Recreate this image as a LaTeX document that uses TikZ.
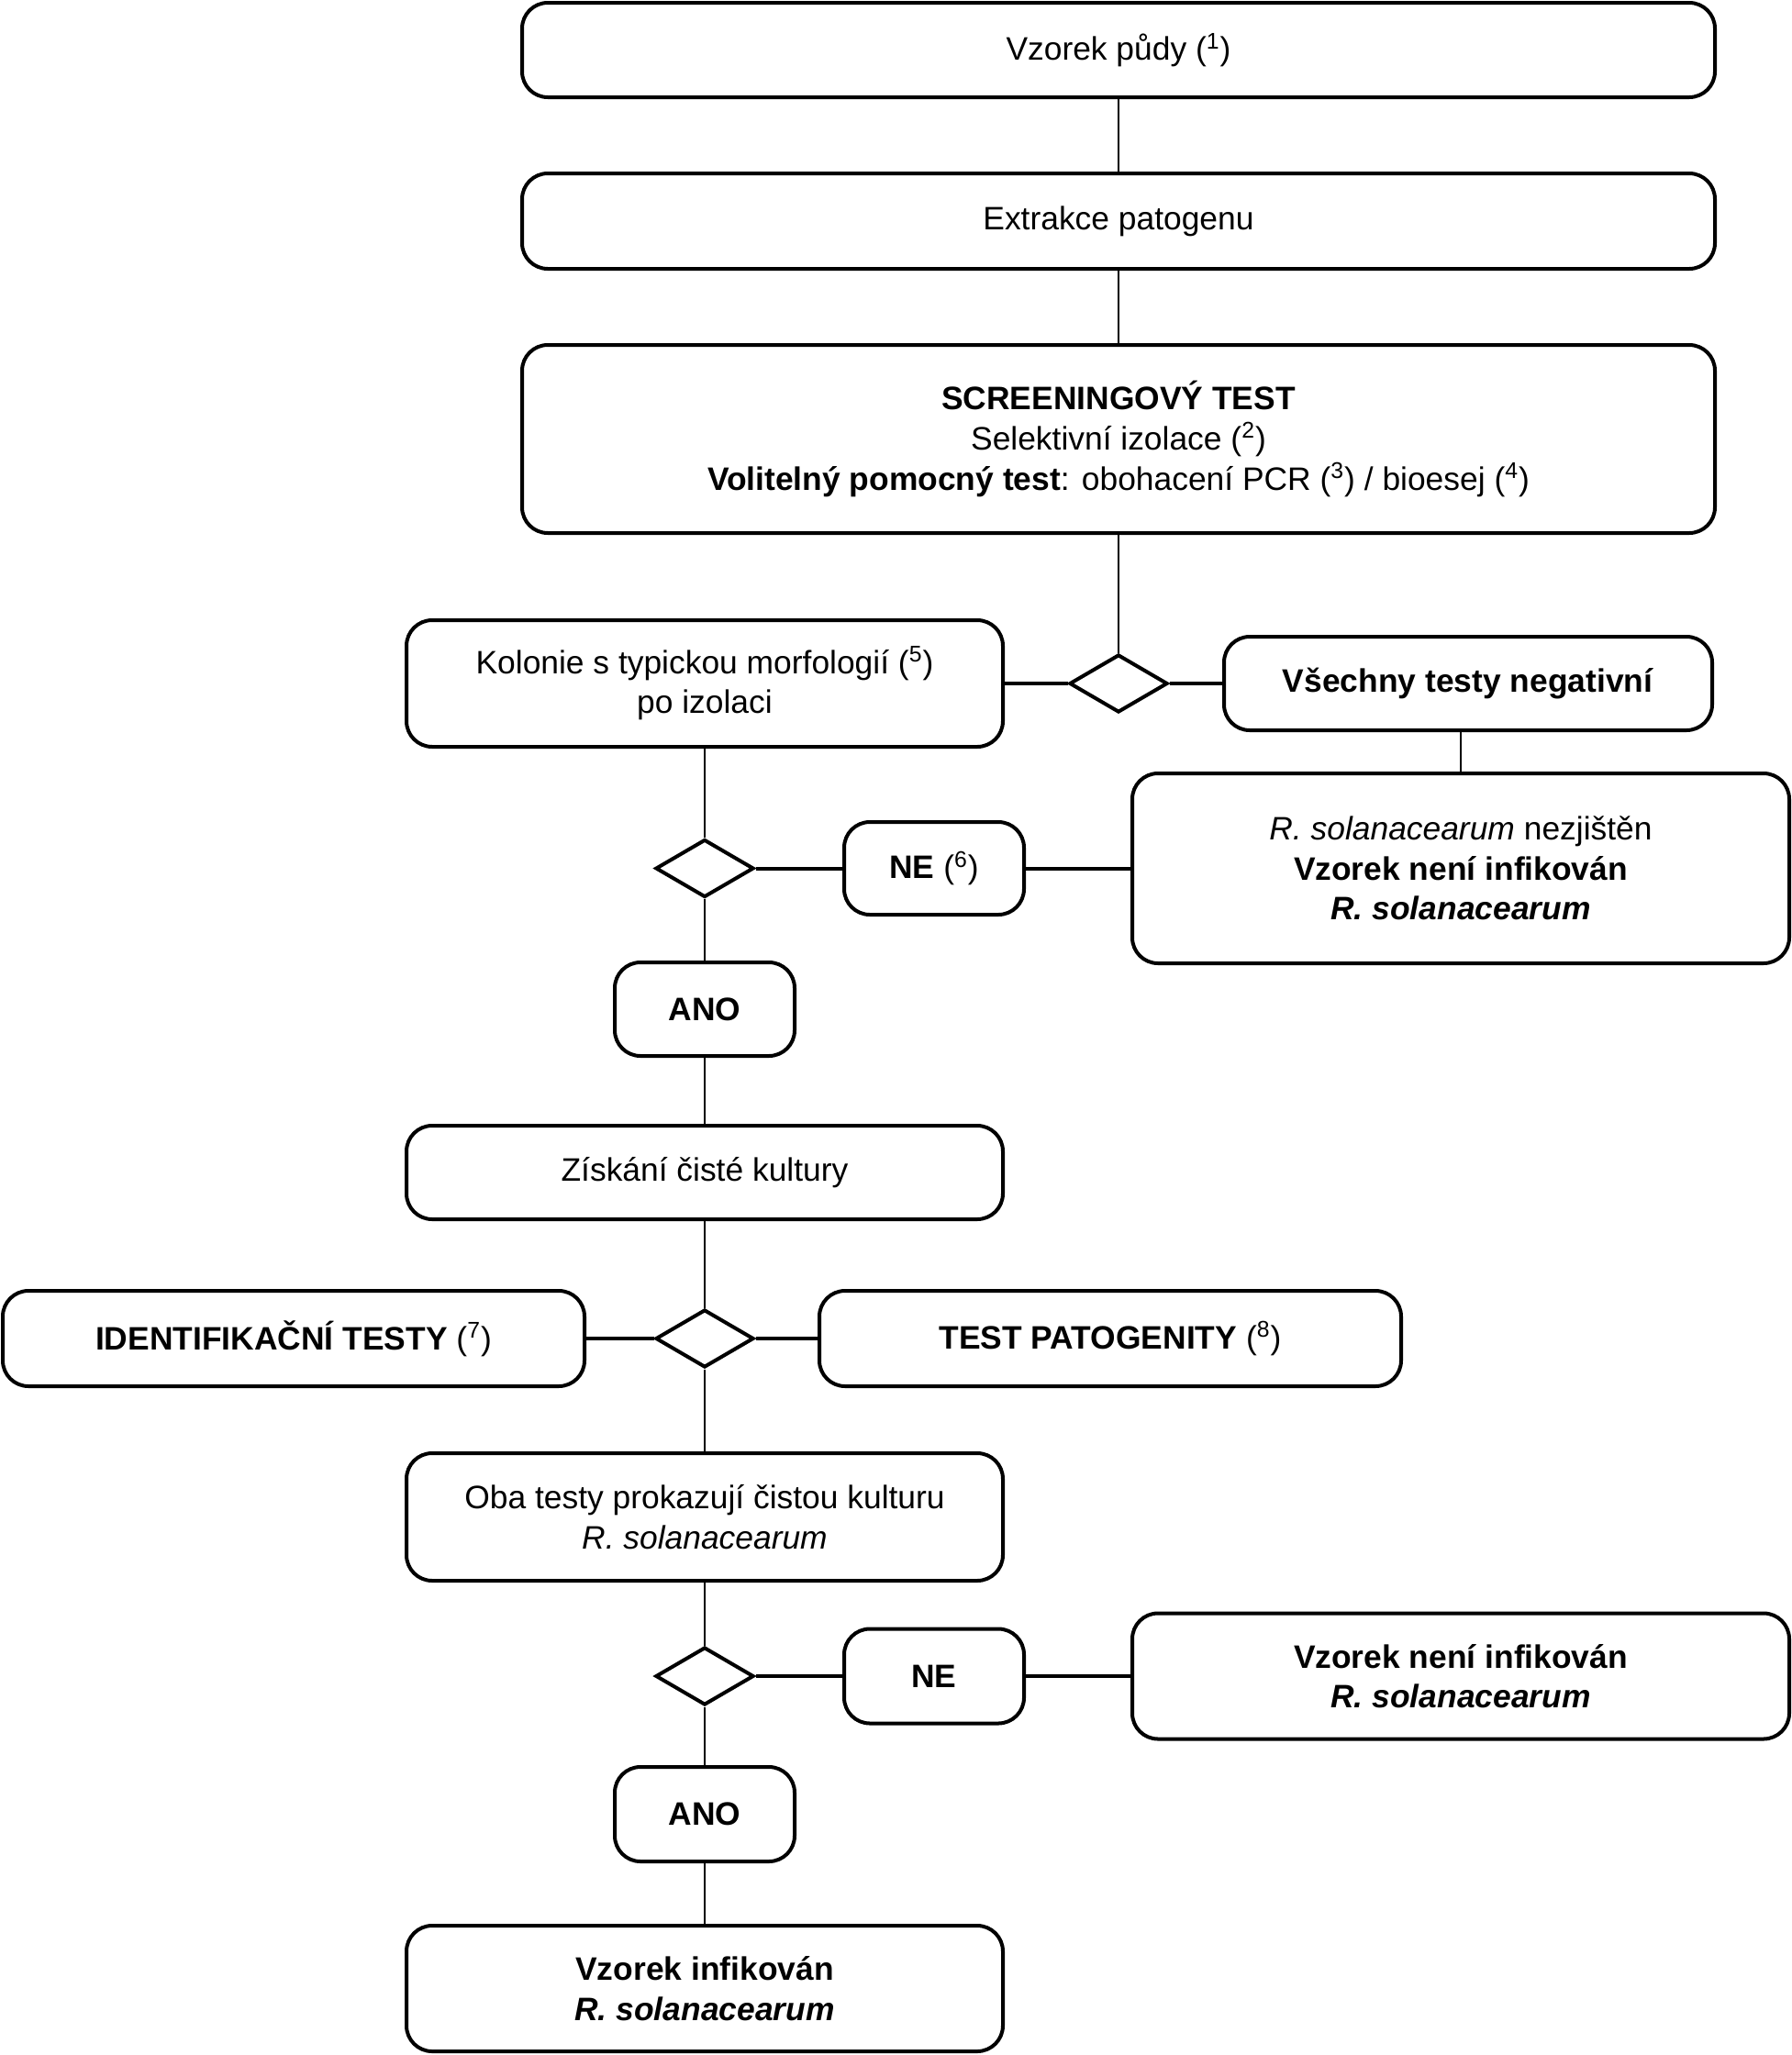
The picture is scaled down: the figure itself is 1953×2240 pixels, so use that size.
\documentclass[tikz,border=0pt]{standalone}
\usepackage{fontspec}
\setmainfont{Liberation Sans}
\usetikzlibrary{shapes.geometric}
\newcommand{\fsz}{\fontsize{17.7pt}{21.8pt}\selectfont}
\newcommand{\fnref}[1]{(\textsuperscript{#1})}
\begin{document}
\begin{tikzpicture}[x=0.5pt,y=-0.5pt,
  box/.style={draw, line width=2pt, rounded corners=14pt, align=center, inner sep=0pt, font=\fsz},
  dia/.style={draw, diamond, line width=2pt, minimum width=53.5pt, minimum height=31.5pt, inner sep=0pt},
  vline/.style={line width=1.1pt},
  hline/.style={line width=2pt}]
\useasboundingbox (0,0) rectangle (1953,2240);
\node[box, minimum width=650pt, minimum height=51.5pt] (b1) at (1219,54.5) {Vzorek půdy \fnref{1}};
\node[box, minimum width=650pt, minimum height=52pt] (b2) at (1219,241) {Extrakce patogenu};
\node[box, minimum width=650pt, minimum height=102.5pt] (b3) at (1219,478.5) {\textbf{SCREENINGOVÝ TEST}\\Selektivní izolace \fnref{2}\\\textbf{Volitelný pomocný test}: obohacení PCR \fnref{3} / bioesej \fnref{4}};
\node[box, minimum width=325pt, minimum height=69pt] (kol) at (768,745) {Kolonie s typickou morfologií \fnref{5}\\po izolaci};
\node[dia] (d1) at (1219,745) {};
\node[box, minimum width=266pt, minimum height=51pt] (vse) at (1600,745) {\textbf{Všechny testy negativní}};
\node[box, minimum width=358pt, minimum height=103.5pt] (nez) at (1592,946.5) {\textit{R. solanacearum} nezjištěn\\\textbf{Vzorek není infikován}\\\textbf{\textit{R. solanacearum}}};
\node[dia] (d2) at (768,946.5) {};
\node[box, minimum width=98pt, minimum height=50.5pt] (ne1) at (1018,946.5) {\textbf{NE} \fnref{6}};
\node[box, minimum width=98pt, minimum height=51pt] (ano1) at (768,1100) {\textbf{ANO}};
\node[box, minimum width=325pt, minimum height=51pt] (zisk) at (768,1278) {Získání čisté kultury};
\node[box, minimum width=317pt, minimum height=52pt] (ident) at (320,1459) {\textbf{IDENTIFIKAČNÍ TESTY} \fnref{7}};
\node[dia] (d3) at (768,1459) {};
\node[box, minimum width=317pt, minimum height=52pt] (pat) at (1210,1459) {\textbf{TEST PATOGENITY} \fnref{8}};
\node[box, minimum width=325pt, minimum height=69.5pt] (oba) at (768,1653.5) {Oba testy prokazují čistou kulturu\\\textit{R. solanacearum}};
\node[dia] (d4) at (768,1827) {};
\node[box, minimum width=98pt, minimum height=51.5pt] (ne2) at (1018,1827) {\textbf{NE}};
\node[box, minimum width=358pt, minimum height=68.5pt] (nen) at (1592,1827) {\textbf{Vzorek není infikován}\\\textbf{\textit{R. solanacearum}}};
\node[box, minimum width=98pt, minimum height=51.5pt] (ano2) at (768,1977.5) {\textbf{ANO}};
\node[box, minimum width=325pt, minimum height=68.5pt] (inf) at (768,2167.5) {\textbf{Vzorek infikován}\\\textbf{\textit{R. solanacearum}}};
\draw[vline] (b1) -- (b2);
\draw[vline] (b2) -- (b3);
\draw[vline] (b3) -- (d1);
\draw[hline] (kol) -- (d1);
\draw[hline] (d1) -- (vse);
\draw[vline] (nez.north) -- (nez.north |- vse.south);
\draw[vline] (kol) -- (d2);
\draw[hline] (d2) -- (ne1);
\draw[hline] (ne1) -- (nez);
\draw[vline] (d2) -- (ano1);
\draw[vline] (ano1) -- (zisk);
\draw[vline] (zisk) -- (d3);
\draw[hline] (ident) -- (d3);
\draw[hline] (d3) -- (pat);
\draw[vline] (d3) -- (oba);
\draw[vline] (oba) -- (d4);
\draw[hline] (d4) -- (ne2);
\draw[hline] (ne2) -- (nen);
\draw[vline] (d4) -- (ano2);
\draw[vline] (ano2) -- (inf);
\end{tikzpicture}
\end{document}
